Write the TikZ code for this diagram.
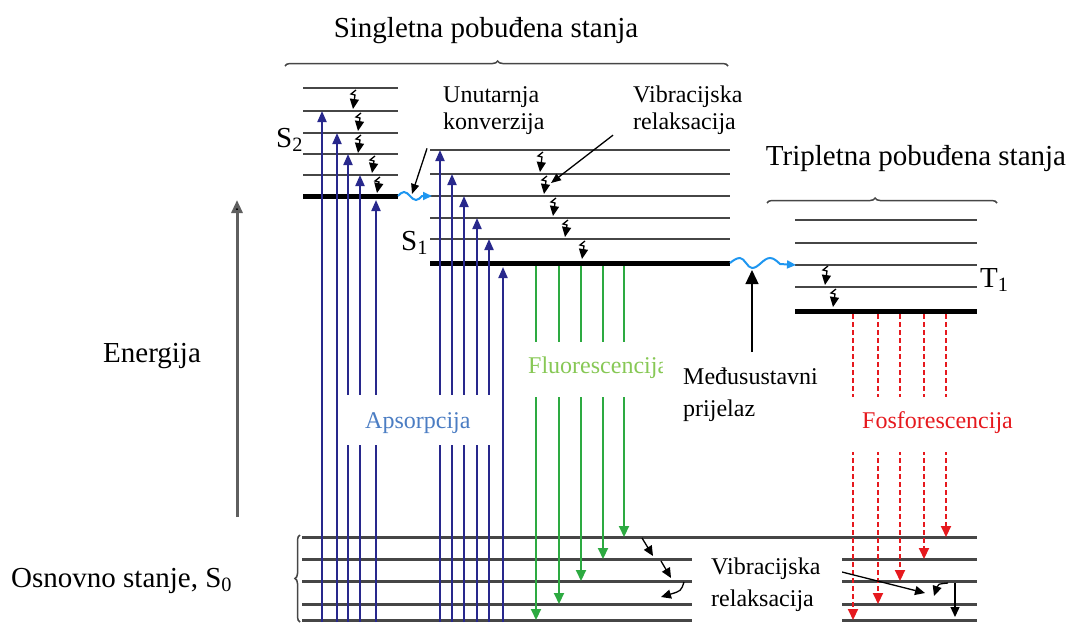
\documentclass[tikz,border=0pt]{standalone}
\usepackage{fontspec}
\setmainfont{Liberation Serif}
\usepackage{tikz}
\usepackage{xcolor}
\usetikzlibrary{
    arrows.meta,
    decorations.pathreplacing,
    calc
  }
\definecolor{levelgray}{RGB}{70,70,70}
\definecolor{absorbblue}{RGB}{40,40,140}
\definecolor{absorbtext}{RGB}{75,125,195}
\definecolor{fluorgreen}{RGB}{45,170,65}
\definecolor{fluortext}{RGB}{135,200,85}
\definecolor{phosred}{RGB}{230,25,30}
\definecolor{wavecolor}{RGB}{30,150,240}
\definecolor{energygray}{RGB}{95,95,95}
\tikzset{
  level/.style={draw=levelgray,line width=2pt},
  baselevel/.style={draw=black,line width=5pt},
  groundlevel/.style={draw=levelgray,line width=3pt},
  absorb/.style={draw=absorbblue,line width=2pt,-{Triangle[length=11pt,width=9pt]}},
  fluor/.style={draw=fluorgreen,line width=2pt,-{Triangle[length=11pt,width=10pt]}},
  phos/.style={draw=phosred,line width=2pt,dash pattern=on 5pt off 3pt,-{Triangle[length=11pt,width=10pt]}},
  vib/.style={draw=black,line width=1.3pt,-{Triangle[length=10pt,width=9pt]}},
  pointer/.style={draw=black,line width=1.3pt,-{Triangle[length=10pt,width=8pt]}},
  crossing/.style={draw=wavecolor,line width=2pt,-{Triangle[length=9pt,width=8pt]}},
  energy/.style={draw=energygray,line width=3pt,-{Triangle[length=13pt,width=11pt,fill=black]}},
  bracket/.style={draw=levelgray,line width=1.5pt,decorate,decoration={brace,amplitude=5pt,aspect=#1}},
  bigtext/.style={font=\fontsize{29}{33}\selectfont,inner sep=0pt},
  smalltext/.style={font=\fontsize{24}{27}\selectfont,inner sep=0pt},
  pics/vibdrop/.style args={#1}{
    code={
      \path[draw,vib] (3,0) -- (-2,4) -- (2,5) -- (0,#1);
    }
  }
}

\begin{document}
\begin{tikzpicture}[x=1pt, y=-1pt]

\useasboundingbox (0,0) rectangle (1073,622);

% singlet S2
\path[draw,level] (303,88) -- (398,88);
\path[draw,level] (303,111) -- (398,111);
\path[draw,level] (303,133) -- (398,133);
\path[draw,level] (303,154) -- (398,154);
\path[draw,level] (303,175) -- (398,175);
\path[draw,baselevel] (303,196) coordinate (s2_left) -- (398,196) coordinate (s2_right);

% singlet S1
\path[draw,level] (430,150) -- (730,150);
\path[draw,level] (430,174) -- (730,174);
\path[draw,level] (430,196) coordinate (s1_top_left) -- (730,196);
\path[draw,level] (430,218) -- (730,218);
\path[draw,level] (430,239) -- (730,239);
\path[draw,baselevel] (430,263) coordinate (s1_left) -- (730,263) coordinate (s1_right);

% triplet T1
\path[draw,level] (795,220) -- (977,220);
\path[draw,level] (795,243) -- (977,243);
\path[draw,level] (795,265) coordinate (t1_upper) -- (977,265);
\path[draw,level] (795,287) -- (977,287);
\path[draw,baselevel] (795,311) coordinate (t1_left) -- (977,311) coordinate (t1_right);

% ground state S0
\path[draw,groundlevel] (302,537) -- (977,537);
\path[draw,groundlevel] (302,559) -- (977,559);
\path[draw,groundlevel] (302,581) -- (977,581);
\path[draw,groundlevel] (302,604) -- (977,604);
\path[draw,groundlevel] (302,620) -- (977,620);

% braces
\path[bracket=0.48] (285,66) -- (728,66);
\path[bracket=0.47] (767,203) -- (997,203);
\path[bracket=0.5] (300,622) -- (300,535);

% energy axis
\path[draw,energy] (237,517) -- (237,200);

% absorption
\foreach \x/\y in {322/111,337/133,348/154,360/175,376/200}
  \path[draw,absorb] (\x,622) -- (\x,\y);
\foreach \x/\y in {440/150,452/174,464/196,477/218,489/239,503/267}
  \path[draw,absorb] (\x,622) -- (\x,\y);

% fluorescence
\foreach \x/\y in {536/620,559/604,581/581,603/559,624/537}
  \path[draw,fluor] (\x,266) -- (\x,\y);

% phosphorescence
\foreach \x/\y in {853/620,878/604,900/581,924/559,946/537}
  \path[draw,phos] (\x,314) -- (\x,\y);

% vibrational relaxation
\path (353,90) pic {vibdrop={19}};
\path (358,113) pic {vibdrop={18}};
\path (358,135) pic {vibdrop={18}};
\path (372,156) pic {vibdrop={17}};
\path (377,177) pic {vibdrop={16}};
\path (540,152) pic {vibdrop={20}};
\path (544,176) pic {vibdrop={18}};
\path (553,198) pic {vibdrop={18}};
\path (565,220) pic {vibdrop={17}};
\path (582,241) pic {vibdrop={18}};
\path (825,266) pic {vibdrop={19}};
\path (833,289) pic {vibdrop={18}};
\path[draw,vib] (642,538) -- (653,556);
\path[draw,vib] (661,561) -- (671,578);
\path[draw,vib] (684,582) .. controls (681,591) .. (661,597);
\path[draw,vib] (842,572) -- (925,593);
\path[draw,vib] (948,583) .. controls (938,584) .. (934,596);
\path[draw,vib] (955,583) -- (955,617);

% internal conversion and intersystem crossing
\path[draw,crossing] (s2_right) sin (404,192) cos (410,196) sin (416,200) cos (422,196) -- (432,196);
\path[draw,crossing] (s1_right) sin (740,258) cos (746,263) sin (752,268) cos (761,263) sin (770,258) cos (780,264) -- (796,265);
\path[draw,pointer,-{Triangle[length=14pt,width=13pt]}] (752,352) coordinate (isc_tail) -- (752,270);

% white label boxes
\path[fill=white] (338,395) rectangle (493,445);
\path[fill=white] (507,342) rectangle (663,397);
\path[fill=white] (842,397) rectangle (1007,452);
\path[fill=white] (692,542) rectangle (842,622);

% labels
\node[bigtext,anchor=base] (singlet_label) at (486,37) {Singletna pobuđena stanja};
\node[bigtext,anchor=base] (triplet_label) at (916,165) {Tripletna pobuđena stanja};
\node[bigtext,anchor=base west] (energy_label) at (103,362) {Energija};
\node[bigtext,anchor=base west] (ground_label) at (11,587) {Osnovno stanje, S\textsubscript{0}};
\node[bigtext,anchor=base west] (s2_label) at (276,147) {S\textsubscript{2}};
\node[bigtext,anchor=base west] (s1_label) at (401,250) {S\textsubscript{1}};
\node[bigtext,anchor=base west] (t1_label) at (980,287) {T\textsubscript{1}};
\node[smalltext,anchor=base west,text=absorbtext] (absorb_label) at (365,428) {Apsorpcija};
\node[smalltext,anchor=base west,text=fluortext] (fluor_label) at (528,373) {Fluorescencija};
\path[fill=white] (663,353) rectangle (842,433);
\node[smalltext,anchor=base west,text=phosred] (phos_label) at (862,428) {Fosforescencija};
\node[smalltext,anchor=north west,align=left] (ic_label) at (443,86) {Unutarnja\\konverzija};
\node[smalltext,anchor=north west,align=left] (vr_label) at (633,86) {Vibracijska\\relaksacija};
\node[smalltext,anchor=north west,align=left,font=\fontsize{24}{32}\selectfont] (isc_label) at (683,368) {Međusustavni\\prijelaz};
\node[smalltext,anchor=north west,align=left,font=\fontsize{24}{32}\selectfont] (vr_ground_label) at (711,558) {Vibracijska\\relaksacija};

% pointers
\path[draw,pointer] ($(ic_label.south west)+(-16,14)$) -- (412,194);
\path[draw,pointer] ($(vr_label.south west)+(-20,0)$) -- (551,183);

\end{tikzpicture}
\end{document}
